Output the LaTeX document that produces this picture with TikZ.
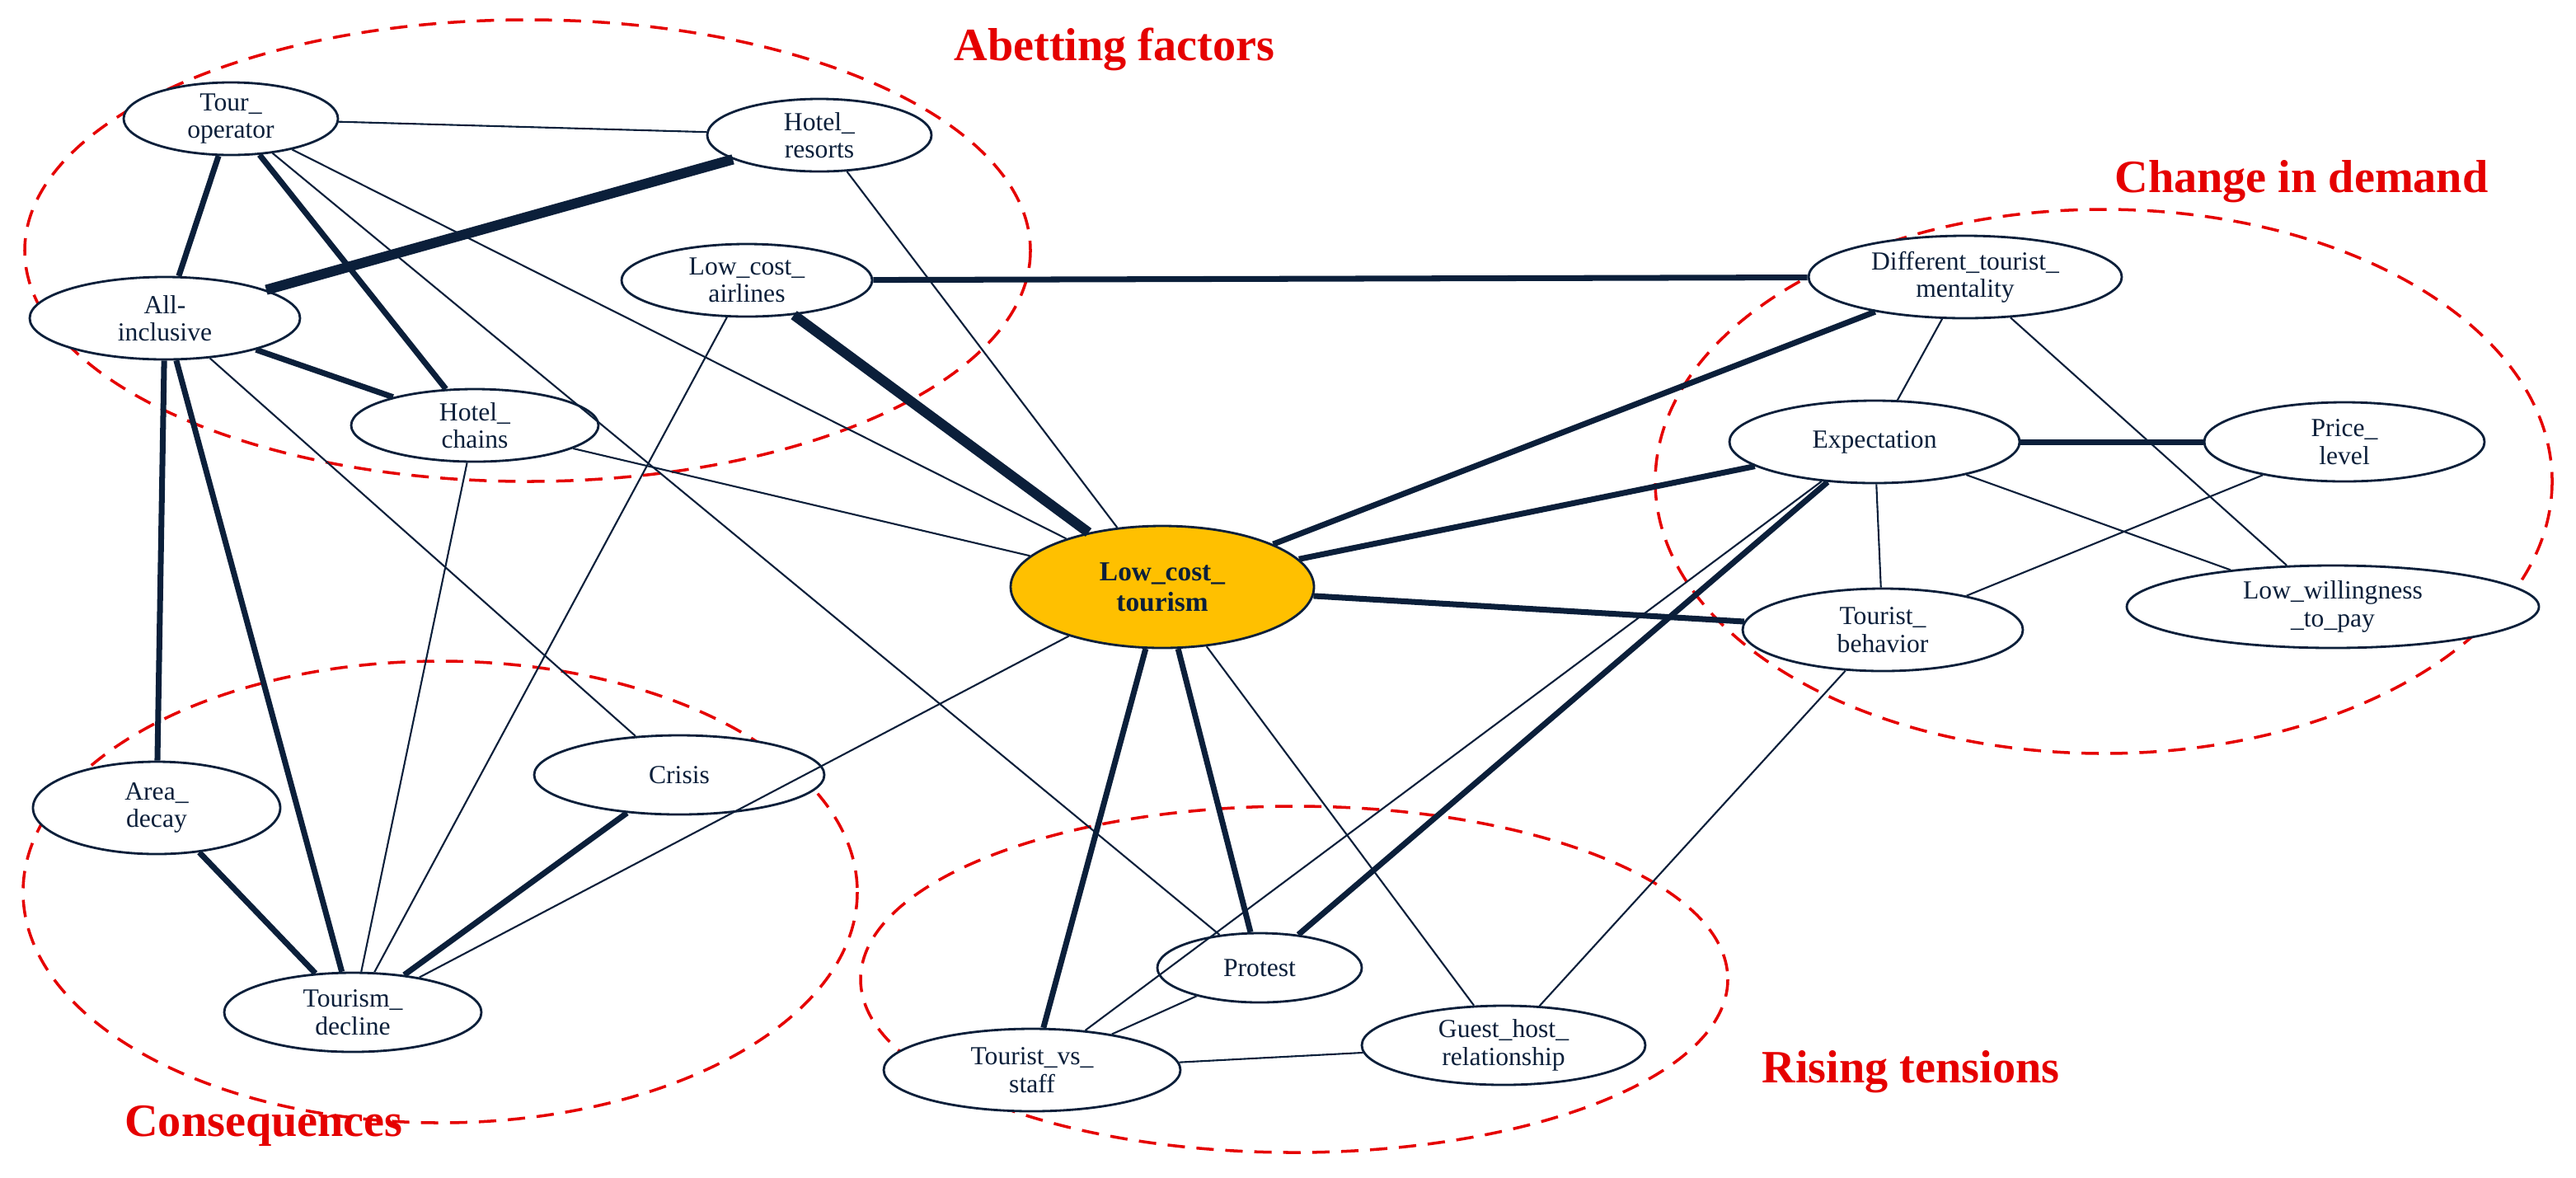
\documentclass[tikz,border=0pt]{standalone}
\usepackage{fontspec}
\setmainfont{Liberation Serif}
\usetikzlibrary{shapes.geometric}
\begin{document}
\begin{tikzpicture}[x=0.02cm,y=-0.02cm,
  nd/.style={draw=navy,line width=0.8pt,ellipse,fill=white,inner sep=0pt,text=navy,font=\fontsize{9}{9.5}\selectfont,align=center},
  thin/.style={draw=navy,line width=0.6pt},
  med/.style={draw=navy,line width=2pt},
  thk/.style={draw=navy,line width=3.5pt},
  grp/.style={draw=red!90!black,line width=1pt,dash pattern=on 6pt off 4pt},
  lab/.style={text=red!90!black,font=\fontsize{16}{18}\selectfont\bfseries}]
\definecolor{navy}{HTML}{0B1F3A}
\definecolor{gold}{HTML}{FFC000}
\useasboundingbox (0,0) rectangle (1562.5,714);
\newcommand\en[5]{\node[nd,minimum width=#3*2*0.02cm,minimum height=#4*2*0.02cm] (#5) at (#1,#2)}
% groups
\draw[grp] (320,152) ellipse [x radius=305,y radius=140];
\draw[grp] (1276,292) ellipse [x radius=272,y radius=165];
\draw[grp] (267,541) ellipse [x radius=253,y radius=140];
\draw[grp] (785,594) ellipse [x radius=263,y radius=105];
\node[lab] (l1) at (676,30) {Abetting factors};
\node[lab] (l2) at (1396,110) {Change in demand};
\node[lab] (l3) at (160,683) {Consequences};
\node[lab] (l4) at (1159,650) {Rising tensions};
% nodes
\en{140}{72}{65}{22}{to} {Tour\_\\operator};
\en{497}{82}{68}{22}{hr} {Hotel\_\\resorts};
\en{453}{170}{76}{22}{la} {Low\_cost\_\\airlines};
\en{100}{193}{82}{25}{ai} {All-\\inclusive};
\en{288}{258}{75}{22}{hc} {Hotel\_\\chains};
\node[nd,fill=gold,minimum width=184*0.02cm,minimum height=74*0.02cm,font=\fontsize{9.5}{10.5}\selectfont\bfseries] (lt) at (705,356) {Low\_cost\_\\tourism};
\en{1192}{168}{95}{25}{dm} {Different\_tourist\_\\mentality};
\en{1137}{268}{88}{25}{ex} {Expectation};
\en{1422}{268}{85}{24}{pl} {Price\_\\level};
\en{1142}{382}{85}{25}{tb} {Tourist\_\\behavior};
\en{1415}{368}{125}{25}{lw} {Low\_willingness\\\_to\_pay};
\en{412}{470}{88}{24}{cr} {Crisis};
\en{95}{490}{75}{28}{ad} {Area\_\\decay};
\en{214}{614}{78}{24}{td} {Tourism\_\\decline};
\en{764}{587}{62}{21}{pr} {Protest};
\en{626}{649}{90}{25}{ts} {Tourist\_vs\_\\staff};
\en{912}{634}{86}{24}{gh} {Guest\_host\_\\relationship};
% edges
\foreach \a/\b/\s in {to/hr/thin,to/ai/med,to/hc/med,to/lt/thin,to/pr/thin,hr/ai/thk,hr/lt/thin,la/lt/thk,la/dm/med,la/td/thin,ai/hc/med,ai/ad/med,ai/td/med,ai/cr/thin,hc/lt/thin,hc/td/thin,ad/td/med,cr/td/med,lt/td/thin,lt/dm/med,lt/ex/med,lt/tb/med,lt/ts/med,lt/pr/med,lt/gh/thin,dm/ex/thin,dm/lw/thin,ex/pl/med,ex/tb/thin,ex/lw/thin,ex/pr/med,ex/ts/thin,pl/tb/thin,tb/gh/thin,pr/ts/thin,ts/gh/thin}
  \draw[\s] (\a) -- (\b);
\end{tikzpicture}
\end{document}
